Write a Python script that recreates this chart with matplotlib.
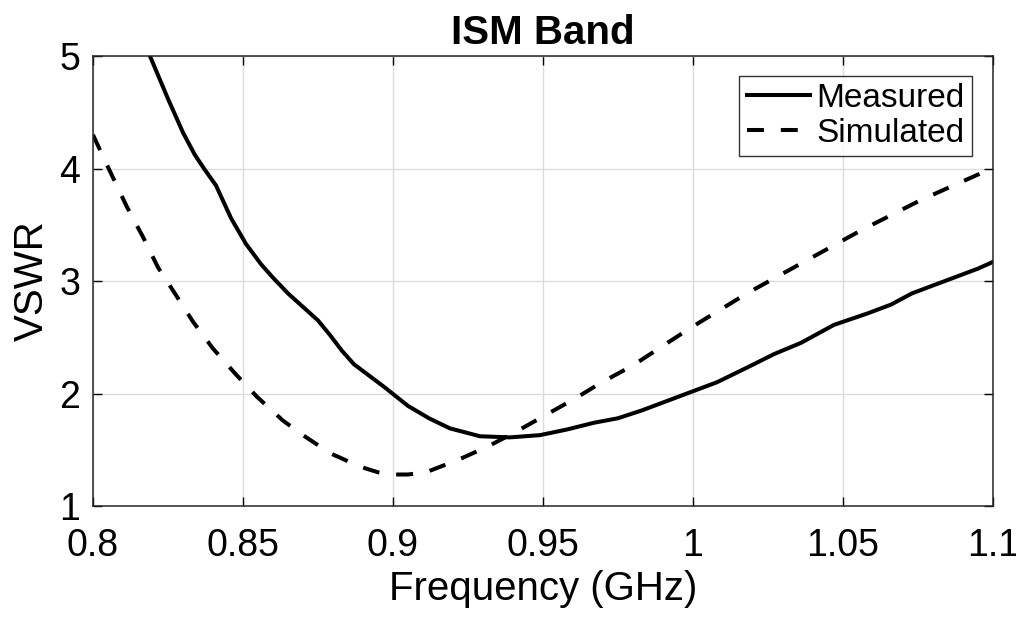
import matplotlib.pyplot as plt

plt.rcParams['font.family'] = ['Liberation Sans', 'DejaVu Sans']

# values
meas_f = [0.815, 0.819, 0.825, 0.830, 0.834, 0.837, 0.841, 0.846, 0.851, 0.856,
          0.860, 0.865, 0.870, 0.875, 0.879, 0.883, 0.887, 0.892, 0.897, 0.905,
          0.912, 0.919, 0.929, 0.939, 0.949, 0.958, 0.967, 0.975, 0.983, 0.990,
          0.997, 1.008, 1.018, 1.027, 1.036, 1.047, 1.058, 1.066, 1.073, 1.081,
          1.089, 1.095, 1.100]
meas_vswr = [5.25, 5.00, 4.62, 4.32, 4.12, 4.00, 3.85, 3.56, 3.33, 3.15,
             3.03, 2.89, 2.77, 2.65, 2.52, 2.38, 2.26, 2.16, 2.06, 1.89,
             1.78, 1.69, 1.62, 1.61, 1.63, 1.68, 1.74, 1.78, 1.85, 1.92,
             1.99, 2.10, 2.23, 2.35, 2.45, 2.61, 2.71, 2.79, 2.89, 2.97,
             3.05, 3.11, 3.17]

sim_f = [0.800, 0.8047, 0.8113, 0.8167, 0.8217, 0.8273, 0.8333, 0.840, 0.8473,
         0.8547, 0.8633, 0.870, 0.879, 0.889, 0.895, 0.900, 0.905, 0.911,
         0.9217, 0.9317, 0.941, 0.951, 0.961, 0.969, 0.980, 0.999, 1.018,
         1.037, 1.056, 1.076, 1.097, 1.100]
sim_vswr = [4.30, 4.03, 3.66, 3.39, 3.12, 2.89, 2.64, 2.40, 2.18,
            1.97, 1.76, 1.63, 1.47, 1.35, 1.30, 1.28, 1.28, 1.30,
            1.41, 1.53, 1.66, 1.81, 1.96, 2.09, 2.25, 2.58, 2.89,
            3.17, 3.45, 3.72, 3.97, 4.00]

x_ticks = [0.8, 0.85, 0.9, 0.95, 1.0, 1.05, 1.1]
x_tick_labels = ["0.8", "0.85", "0.9", "0.95", "1", "1.05", "1.1"]
y_ticks = [1, 2, 3, 4, 5]

fig = plt.figure(figsize=(10.16, 6.17), dpi=100)
ax = fig.add_axes([0.0915, 0.1799, 0.8858, 0.7293])

ax.plot(meas_f, meas_vswr, color="black", lw=2.9, label="Measured")
ax.plot(sim_f, sim_vswr, color="black", lw=2.9, linestyle="--",
        dashes=(4.2, 4.2), label="Simulated")

ax.set_xlim(0.8, 1.1)
ax.set_ylim(1, 5)
ax.set_xticks(x_ticks)
ax.set_xticklabels(x_tick_labels)
ax.set_yticks(y_ticks)
ax.grid(True, color="#dcdcdc", lw=1)
ax.set_axisbelow(True)
ax.tick_params(direction="in", length=6.5, width=1, labelsize=27, top=True,
               right=True)
ax.tick_params(axis="x", pad=16)
ax.tick_params(axis="y", pad=9)
for s in ax.spines.values():
    s.set_linewidth(1.1)
    s.set_color("#262626")

ax.set_xlabel("Frequency (GHz)", fontsize=29, labelpad=4)
ax.set_ylabel("VSWR", fontsize=29, labelpad=6)
ax.set_title("ISM Band", fontsize=29, fontweight="bold", pad=9)

leg = ax.legend(loc="upper right", fontsize=24, frameon=True, fancybox=False,
                handlelength=1.9, handletextpad=0.2, borderpad=0.22,
                labelspacing=0.12, borderaxespad=0,
                bbox_to_anchor=(0.977, 0.956))
leg.get_frame().set_edgecolor("black")
leg.get_frame().set_linewidth(1)

plt.savefig("out.png", dpi=100)
